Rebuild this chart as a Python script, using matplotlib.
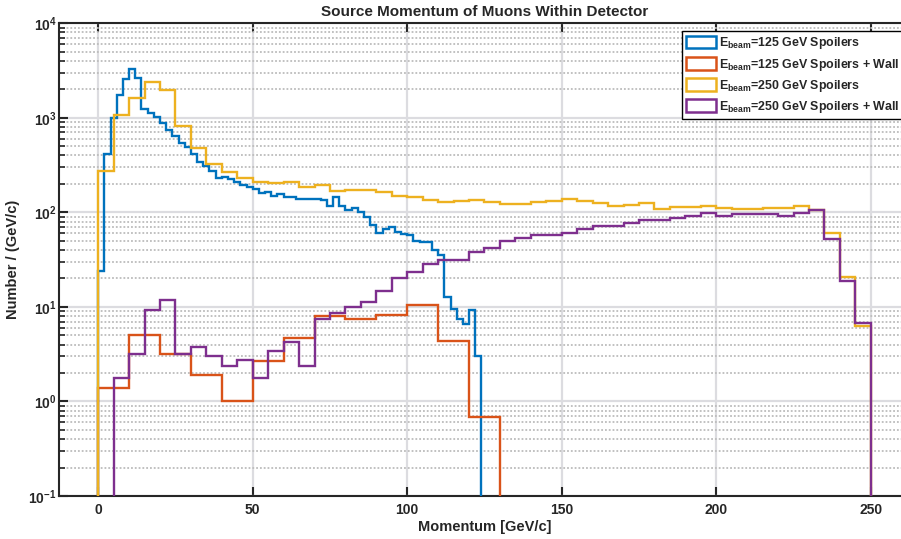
import numpy as np
import matplotlib
matplotlib.use("Agg")
import matplotlib.pyplot as plt
from matplotlib.patches import Patch
from matplotlib.ticker import FixedLocator, FuncFormatter, LogLocator, NullLocator

# histogram contents (Number / (GeV/c))
blue_edges = np.arange(0, 126, 2)       # 125 GeV spoilers, 2 GeV bins
blue_vals = [24, 418, 1000, 1730, 2600, 3260, 2640, 1240, 1125, 1010,
             880, 740, 635, 542, 487, 412, 345, 310, 272, 232,
             237, 224, 210, 194, 186, 178, 162, 164, 150, 155,
             146, 146, 140, 138, 140, 140, 134, 116, 144, 118,
             107, 112, 102, 89, 74, 61, 67, 70, 62, 59,
             57, 50, 49, 49, 40, 35.7, 12.7, 9.6, 7.45, 6.6,
             9.3, 3.0]

red_edges = np.arange(0, 140, 10)       # 125 GeV spoilers + wall, 10 GeV bins
red_vals = [1.40, 5.0, 3.16, 1.89, 1.0, 2.69, 4.7, 8.1, 7.5, 8.2,
            10.5, 4.4, 0.69]

yel_edges = np.arange(0, 255, 5)        # 250 GeV spoilers, 5 GeV bins
yel_vals = [272, 1080, 1620, 2370, 1990, 810, 475, 325, 268, 232,
            210, 205, 210, 184, 193, 170, 174, 171, 163, 148,
            144, 136, 129, 131, 136, 129, 123, 123, 128, 131,
            139, 131, 126, 118, 121, 126, 109, 114, 114, 118,
            111, 109, 109, 111, 111, 116, 107, 61, 20.5, 6.3]

pur_edges = np.arange(0, 255, 5)        # 250 GeV spoilers + wall, 5 GeV bins
pur_vals = [0, 1.79, 3.2, 9.3, 11.9, 3.2, 3.77, 3.0, 2.39, 2.76,
            1.79, 3.38, 4.3, 2.39, 7.45, 8.6, 10.1, 11.4, 14.6, 20,
            23.5, 28.6, 31, 31.6, 37.8, 42, 50, 53.5, 58, 58,
            61, 67, 72, 71, 78, 84, 83, 87, 91, 98,
            92, 95, 96, 95, 91, 98, 105, 52, 18.9, 6.8]

labels = [r"E$_{\mathbf{beam}}$=125 GeV Spoilers",
          r"E$_{\mathbf{beam}}$=125 GeV Spoilers + Wall",
          r"E$_{\mathbf{beam}}$=250 GeV Spoilers",
          r"E$_{\mathbf{beam}}$=250 GeV Spoilers + Wall"]
colors = ["#0072BD", "#D95319", "#EDB120", "#7E2F8E"]

plt.rcParams["font.family"] = ["Liberation Sans", "DejaVu Sans"]
plt.rcParams["font.weight"] = "bold"
plt.rcParams["axes.titleweight"] = "bold"
plt.rcParams["axes.labelweight"] = "bold"
plt.rcParams["mathtext.fontset"] = "custom"
plt.rcParams["mathtext.rm"] = "Liberation Sans:bold"
plt.rcParams["mathtext.bf"] = "Liberation Sans:bold"
plt.rcParams["mathtext.it"] = "Liberation Sans:bold"

W, H = 901, 539
fig = plt.figure(figsize=(W / 100, H / 100), dpi=100)
ax = fig.add_axes([59.3 / W, (H - 496) / H, (909.7 - 59.3) / W, (496 - 23.3) / H])

floor = 1e-3
series = [(blue_edges, blue_vals), (red_edges, red_vals),
          (yel_edges, yel_vals), (pur_edges, pur_vals)]
for (edges, vals), c in zip(series, colors):
    v = np.clip(np.array(vals, dtype=float), floor, None)
    ax.stairs(v, edges, baseline=floor, fill=False, color=c, lw=1.7, zorder=3)

ax.set_yscale("log")
ax.set_ylim(0.1, 1e4)
ax.set_xlim(-12.6, 262.6)
ax.xaxis.set_major_locator(FixedLocator([0, 50, 100, 150, 200, 250]))
ax.xaxis.set_minor_locator(NullLocator())
ax.yaxis.set_major_locator(LogLocator(base=10, numticks=20))
ax.yaxis.set_minor_locator(LogLocator(base=10, subs=np.arange(2, 10), numticks=100))
ax.yaxis.set_major_formatter(FuncFormatter(lambda v, p: r"$\mathbf{10^{%d}}$" % round(np.log10(v))))

ax.set_axisbelow(True)
ax.grid(True, which="major", axis="both", color="#dcdce0", lw=1.6, ls="-")
ax.grid(True, which="minor", axis="y", color="#bcbcbc", lw=1.3, ls=(0, (1, 1.1)))

dark = "#262626"
for s in ax.spines.values():
    s.set_color(dark)
    s.set_linewidth(1.5)
ax.tick_params(which="major", direction="in", top=True, right=True, length=6.2,
               width=1.5, color=dark, labelsize=10, labelcolor=dark)
ax.tick_params(axis="x", pad=5)
ax.tick_params(axis="y", pad=2)
ax.tick_params(which="minor", direction="in", right=True, length=4, width=1.2, color=dark)

ax.set_xlabel("Momentum [GeV/c]", fontsize=10.5, color=dark, labelpad=2)
ax.set_ylabel("Number / (GeV/c)", fontsize=10.5, color=dark, labelpad=6)
ax.set_title("Source Momentum of Muons Within Detector", fontsize=11, color=dark, pad=5)

handles = [Patch(facecolor="white", edgecolor=c, lw=1.8) for c in colors]
leg = ax.legend(handles, labels, loc="upper left",
                bbox_to_anchor=(681.7 / W, 1 - 31 / H), bbox_transform=fig.transFigure,
                fontsize=8.9, frameon=True, fancybox=False, framealpha=1,
                edgecolor="black", borderpad=0.35, handlelength=2.4, handleheight=1.2,
                handletextpad=0.3, labelspacing=0.42, borderaxespad=0)
leg.get_frame().set_linewidth(1.0)
for t in leg.get_texts():
    t.set_color(dark)

fig.savefig("out.png", dpi=100)
